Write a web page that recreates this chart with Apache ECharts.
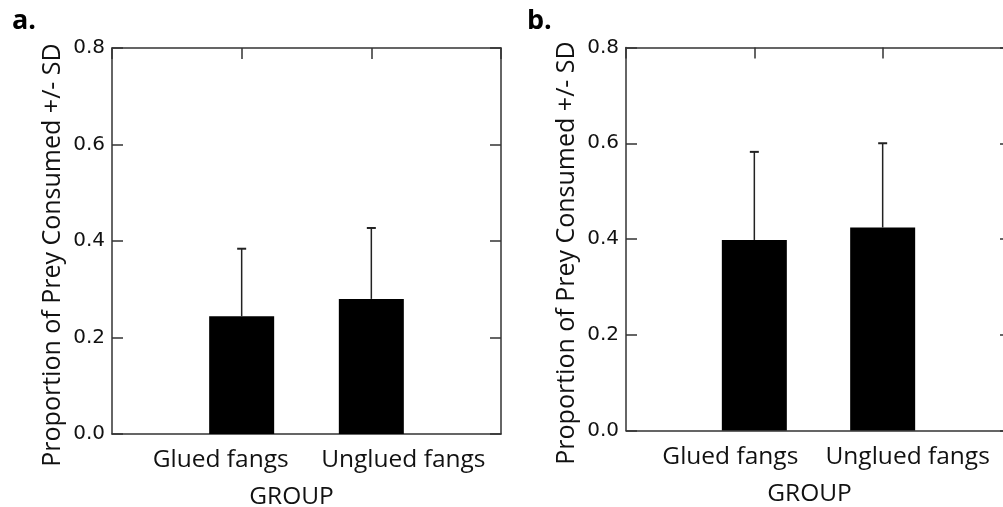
<!DOCTYPE html>
<html>
<head>
<meta charset="utf-8">
<script src="https://cdn.jsdelivr.net/npm/echarts@6/dist/echarts.min.js"></script>
<style>
html,body{margin:0;padding:0;background:#fff;}
#c{width:1003px;height:507px;}
</style>
</head>
<body>
<div id="c"></div>
<script>
// ---- data ----
const groups = ['Glued fangs', 'Unglued fangs'];
const meanA = [0.244, 0.280];
const sdA = [0.140, 0.147];
const meanB = [0.398, 0.424];
const sdB = [0.184, 0.176];
const yTicks = [0.0, 0.2, 0.4, 0.6, 0.8];
const panelLabels = ['a.', 'b.'];
const xTitle = 'GROUP';
const yTitle = 'Proportion of Prey Consumed +/- SD';

const cats = [''].concat(groups).concat(['']);
const axisColor = '#333';
const labelFont = 'Open Sans';
const tickFont = 'DejaVu Sans';
const labelSize = 24.5;

const grids = [
  {left: 112, top: 48, width: 389, height: 386},
  {left: 626, top: 47.5, width: 385, height: 383}
];
const labelShift = [
  {a: [0, 42, 0, 0], b: [0, 0, 0, 64], g: [0, 30, 0, 0]},
  {a: [0, 48, 0, 0], b: [0, 0, 0, 50], g: [0, 18, 0, 0]}
];

const xAxes = [], yAxes = [], series = [];
[0, 1].forEach(function (p) {
  const sh = labelShift[p];
  xAxes.push({
    type: 'category', gridIndex: p, data: cats, boundaryGap: false,
    position: 'bottom',
    axisLine: {onZero: false, lineStyle: {color: axisColor, width: 1.5}},
    axisTick: {show: false},
    axisLabel: {
      interval: 0, margin: 14, color: '#111',
      fontFamily: labelFont, fontSize: labelSize,
      formatter: function (v) {
        if (v === groups[0]) return '{a|' + v + '}';
        if (v === groups[1]) return '{b|' + v + '}';
        return '';
      },
      rich: {
        a: {padding: sh.a, fontFamily: labelFont, fontSize: labelSize, color: '#111'},
        b: {padding: sh.b, fontFamily: labelFont, fontSize: labelSize, color: '#111'}
      }
    },
    name: xTitle, nameLocation: 'middle', nameGap: 51,
    nameTextStyle: {fontFamily: labelFont, fontSize: labelSize, color: '#111', padding: sh.g},
    splitLine: {show: false}
  });
  xAxes.push({
    type: 'category', gridIndex: p, data: cats, boundaryGap: false,
    position: 'top',
    axisLine: {onZero: false, lineStyle: {color: axisColor, width: 1.5}},
    axisTick: {show: true, inside: true, length: 11, interval: 0, lineStyle: {color: axisColor, width: 1.5}},
    axisLabel: {show: false},
    splitLine: {show: false}
  });
  yAxes.push({
    type: 'value', gridIndex: p, min: 0, max: 0.8, interval: 0.2,
    position: 'left',
    axisLine: {show: true, onZero: false, lineStyle: {color: axisColor, width: 1.5}},
    axisTick: {show: true, inside: true, length: 11, lineStyle: {color: axisColor, width: 1.5}},
    axisLabel: {
      margin: 7, color: '#111', fontFamily: tickFont, fontSize: 20,
      formatter: function (v) { return v.toFixed(1); }
    },
    splitLine: {show: false},
    name: yTitle, nameLocation: 'middle', nameRotate: 90, nameGap: 47,
    nameTextStyle: {fontFamily: labelFont, fontSize: 25, color: '#111', padding: [0, 28, 0, 0]}
  });
  yAxes.push({
    type: 'value', gridIndex: p, min: 0, max: 0.8, interval: 0.2,
    position: 'right',
    axisLine: {show: true, onZero: false, lineStyle: {color: axisColor, width: 1.5}},
    axisTick: {show: true, inside: true, length: 11, lineStyle: {color: axisColor, width: 1.5}},
    axisLabel: {show: false},
    splitLine: {show: false}
  });
  const means = p === 0 ? meanA : meanB;
  const sds = p === 0 ? sdA : sdB;
  series.push({
    type: 'bar', xAxisIndex: p * 2, yAxisIndex: p * 2,
    data: ['-'].concat(means).concat(['-']),
    barWidth: 65, itemStyle: {color: '#000'}, silent: true, z: 2
  });
  series.push({
    type: 'custom', xAxisIndex: p * 2, yAxisIndex: p * 2, z: 3, silent: true,
    data: means.map(function (m, i) { return [i + 1, m, sds[i]]; }),
    renderItem: function (params, api) {
      const x = api.value(0), m = api.value(1), s = api.value(2);
      const base = api.coord([x, m]);
      const top = api.coord([x, m + s]);
      const cw = 4.5;
      return {
        type: 'group',
        children: [
          {type: 'line', shape: {x1: base[0], y1: base[1], x2: top[0], y2: top[1]},
           style: {stroke: '#222', lineWidth: 1.5}},
          {type: 'line', shape: {x1: top[0] - cw, y1: top[1], x2: top[0] + cw, y2: top[1]},
           style: {stroke: '#222', lineWidth: 2}}
        ]
      };
    }
  });
});

const chart = echarts.init(document.getElementById('c'), null, {renderer: 'canvas'});
chart.setOption({
  animation: false,
  backgroundColor: '#fff',
  grid: grids.map(function (g) { return Object.assign({containLabel: false, outerBoundsMode: 'none'}, g); }),
  xAxis: xAxes,
  yAxis: yAxes,
  title: [
    {text: panelLabels[0], left: 7, top: 3, textStyle: {fontFamily: labelFont, fontWeight: 'bold', fontSize: 27, color: '#000'}},
    {text: panelLabels[1], left: 522, top: 3, textStyle: {fontFamily: labelFont, fontWeight: 'bold', fontSize: 27, color: '#000'}}
  ],
  series: series
});
</script>
</body>
</html>
